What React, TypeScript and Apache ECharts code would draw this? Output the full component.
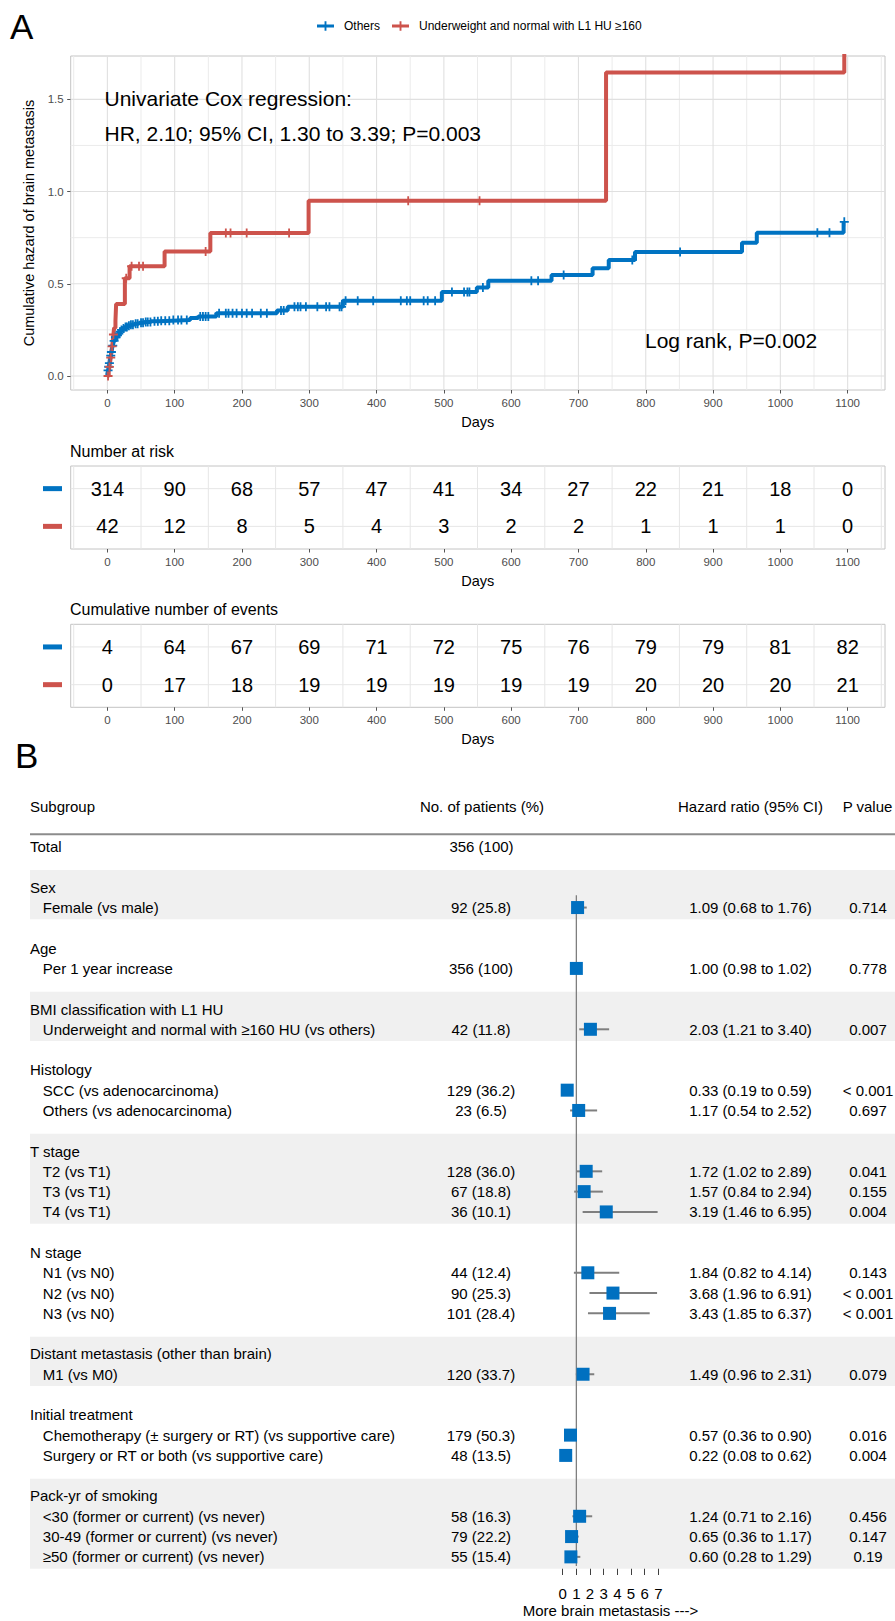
import React, { useEffect, useRef } from "react";
import * as echarts from "echarts";

const FONT = "'Liberation Sans', Arial, Helvetica, sans-serif";
const BLUE = "#0073C2";
const RED = "#CD534C";
const SQUARE = "#0070C0";

// ---------------- Panel A data ----------------
const seriesNames = ["Others", "Underweight and normal with L1 HU \u2265160"];

const othersDays = [0, 0, 1, 2, 3, 4, 5, 6, 7, 8, 9, 10, 11, 12, 14, 16, 18, 20, 23, 26, 30, 35, 40, 47, 55, 65, 78, 95, 123, 135, 162, 252, 268, 350, 497, 549, 566, 660, 721, 745, 784, 943, 965, 1094];
const othersHazard = [0, 0.013, 0.03, 0.05, 0.07, 0.09, 0.11, 0.13, 0.15, 0.165, 0.18, 0.19, 0.2, 0.21, 0.22, 0.23, 0.24, 0.25, 0.258, 0.265, 0.272, 0.278, 0.283, 0.288, 0.293, 0.297, 0.3, 0.303, 0.315, 0.322, 0.34, 0.355, 0.375, 0.408, 0.455, 0.48, 0.517, 0.547, 0.584, 0.629, 0.672, 0.7225, 0.777, 0.836];
const othersCensored = [1, 2, 3, 5, 6, 8, 10, 12, 13, 15, 17, 19, 21, 24, 27, 29, 32, 35, 38, 42, 45, 50, 53, 57, 60, 64, 70, 75, 80, 86, 92, 98, 105, 110, 118, 138, 142, 146, 150, 166, 176, 180, 186, 192, 200, 207, 215, 228, 237, 258, 262, 278, 283, 287, 295, 312, 325, 330, 345, 348, 354, 372, 395, 436, 445, 450, 470, 476, 487, 512, 530, 535, 538, 558, 630, 640, 678, 780, 851, 1055, 1073, 1095];

const underDays = [0, 2, 3, 4, 5, 6, 7, 8, 9, 10, 12, 13, 26, 33, 85, 153, 299, 741, 1095];
const underHazard = [0, 0.024, 0.049, 0.075, 0.1, 0.13, 0.16, 0.19, 0.225, 0.26, 0.3, 0.39, 0.53, 0.595, 0.675, 0.775, 0.95, 1.646, 2.6];
const underCensored = [1, 3, 5, 7, 9, 28, 36, 47, 53, 146, 176, 183, 207, 270, 447, 553];

const dayTicks = [0, 100, 200, 300, 400, 500, 600, 700, 800, 900, 1000, 1100];
const dayMinor = [-50, 50, 150, 250, 350, 450, 550, 650, 750, 850, 950, 1050, 1150];
const hazardTicks = [0, 0.5, 1, 1.5];
const hazardMinor = [0.25, 0.75, 1.25];

const riskOthers = [314, 90, 68, 57, 47, 41, 34, 27, 22, 21, 18, 0];
const riskUnder = [42, 12, 8, 5, 4, 3, 2, 2, 1, 1, 1, 0];
const eventsOthers = [4, 64, 67, 69, 71, 72, 75, 76, 79, 79, 81, 82];
const eventsUnder = [0, 17, 18, 19, 19, 19, 19, 19, 20, 20, 20, 21];

// ---------------- Panel B data ----------------
const forestHeaders = ["Subgroup", "No. of patients (%)", "Hazard ratio (95% CI)", "P value"];
const totalLabel = "Total";
const totalPatients = "356 (100)";
const forestGroups = ["Sex", "Age", "BMI classification with L1 HU", "Histology", "T stage", "N stage", "Distant metastasis (other than brain)", "Initial treatment", "Pack-yr of smoking"];
const forestGroupSizes = [1, 1, 1, 2, 3, 3, 1, 2, 3];
const forestItems = [
  "Female (vs male)",
  "Per 1 year increase",
  "Underweight and normal with \u2265160 HU (vs others)",
  "SCC (vs adenocarcinoma)",
  "Others (vs adenocarcinoma)",
  "T2 (vs T1)",
  "T3 (vs T1)",
  "T4 (vs T1)",
  "N1 (vs N0)",
  "N2 (vs N0)",
  "N3 (vs N0)",
  "M1 (vs M0)",
  "Chemotherapy (\u00b1 surgery or RT) (vs supportive care)",
  "Surgery or RT or both (vs supportive care)",
  "<30 (former or current) (vs never)",
  "30-49 (former or current) (vs never)",
  "\u226550 (former or current) (vs never)",
];
const forestPatients = ["92 (25.8)", "356 (100)", "42 (11.8)", "129 (36.2)", "23 (6.5)", "128 (36.0)", "67 (18.8)", "36 (10.1)", "44 (12.4)", "90 (25.3)", "101 (28.4)", "120 (33.7)", "179 (50.3)", "48 (13.5)", "58 (16.3)", "79 (22.2)", "55 (15.4)"];
const forestHR = [1.09, 1.0, 2.03, 0.33, 1.17, 1.72, 1.57, 3.19, 1.84, 3.68, 3.43, 1.49, 0.57, 0.22, 1.24, 0.65, 0.6];
const forestLo = [0.68, 0.98, 1.21, 0.19, 0.54, 1.02, 0.84, 1.46, 0.82, 1.96, 1.85, 0.96, 0.36, 0.08, 0.71, 0.36, 0.28];
const forestHi = [1.76, 1.02, 3.4, 0.59, 2.52, 2.89, 2.94, 6.95, 4.14, 6.91, 6.37, 2.31, 0.9, 0.62, 2.16, 1.17, 1.29];
const forestP = ["0.714", "0.778", "0.007", "< 0.001", "0.697", "0.041", "0.155", "0.004", "0.143", "< 0.001", "< 0.001", "0.079", "0.016", "0.004", "0.456", "0.147", "0.19"];
const hrAxisTicks = [0, 1, 2, 3, 4, 5, 6, 7];
const hrAxisName = "More brain metastasis --->";

// ---------------- helpers ----------------
function stepAt(times: number[], vals: number[], t: number) {
  let v = vals[0];
  for (let i = 0; i < times.length; i++) {
    if (times[i] <= t) v = vals[i];
    else break;
  }
  return v;
}

function ts(text: string, size: number, align: string, color = "#000", weight = "normal") {
  return {
    text,
    fill: color,
    textFill: color,
    fontSize: size,
    fontFamily: FONT,
    fontWeight: weight,
    align,
    textAlign: align,
    verticalAlign: "middle",
    textVerticalAlign: "middle",
  };
}

function segmentSeries(xi: number, yi: number, data: number[][], color: string, width: number, z: number) {
  return {
    type: "custom",
    xAxisIndex: xi,
    yAxisIndex: yi,
    z,
    silent: true,
    data,
    encode: { x: [0, 2], y: [1, 3] },
    renderItem: (_p: any, api: any) => {
      const a = api.coord([api.value(0), api.value(1)]);
      const b = api.coord([api.value(2), api.value(3)]);
      return {
        type: "line",
        shape: { x1: a[0], y1: a[1], x2: b[0], y2: b[1] },
        style: { stroke: color, lineWidth: width },
      };
    },
  };
}

const X_MIN = -54.5;
const X_MAX = 1155.5;
const Y_MIN = -0.076;
const Y_MAX = 1.735;
const PLUS = "path://M4,0H6V4H10V6H6V10H4V6H0V4H4Z";
const LEGEND_ICON = "path://M0,3.5H8V0H10V3.5H18V6.5H10V10H8V6.5H0Z";

// forest layout rows (slots derived from structure)
type FRow = { slot: number; kind: string; label: string; idx?: number };
const forestRows: FRow[] = [];
const forestBands: number[][] = [];
(() => {
  forestRows.push({ slot: -2, kind: "header", label: "" });
  forestRows.push({ slot: 0, kind: "total", label: totalLabel });
  let slot = 2;
  let item = 0;
  forestGroups.forEach((g, gi) => {
    const start = slot;
    forestRows.push({ slot, kind: "group", label: g });
    slot++;
    for (let k = 0; k < forestGroupSizes[gi]; k++) {
      forestRows.push({ slot, kind: "item", label: forestItems[item], idx: item });
      item++;
      slot++;
    }
    if (gi % 2 === 0) forestBands.push([30, start - 0.85, 895, slot - 1 + 0.58]);
    slot++;
  });
})();
const itemSlots = forestRows.filter((r) => r.kind === "item").map((r) => r.slot);

function tableSeries(gi: number, rows: number[][]) {
  const data: number[][] = [];
  rows.forEach((vals, r) => vals.forEach((v, i) => data.push([dayTicks[i], r + 1, v])));
  return {
    type: "custom",
    xAxisIndex: gi,
    yAxisIndex: gi,
    z: 5,
    silent: true,
    data,
    renderItem: (_p: any, api: any) => {
      const p = api.coord([api.value(0), api.value(1)]);
      return { type: "text", x: p[0], y: p[1], style: ts(String(api.value(2)), 20, "center") };
    },
  };
}

function dayAxis(gi: number) {
  return {
    type: "value",
    gridIndex: gi,
    min: X_MIN,
    max: X_MAX,
    splitLine: { show: false },
    axisLine: { show: false, onZero: false },
    axisTick: { show: true, length: 3.5, customValues: dayTicks, lineStyle: { color: "#555", width: 1 } },
    axisLabel: { customValues: dayTicks, fontSize: 11.5, color: "#4D4D4D", fontFamily: FONT, margin: 7, formatter: (v: number) => String(v) },
    name: "Days",
    nameLocation: "middle",
    nameGap: 24,
    nameTextStyle: { fontSize: 14.5, color: "#000", fontFamily: FONT },
  };
}

function tableYAxis(gi: number) {
  return {
    type: "value",
    gridIndex: gi,
    min: 0.4,
    max: 2.6,
    inverse: true,
    splitLine: { show: false },
    axisLine: { show: false, onZero: false },
    axisTick: { show: false },
    axisLabel: {
      customValues: [1, 2],
      margin: 8.7,
      formatter: (v: number) => (v === 1 ? "{b| }" : "{r| }"),
      rich: {
        b: { backgroundColor: BLUE, width: 19, height: 5, fontSize: 5, lineHeight: 5 },
        r: { backgroundColor: RED, width: 19, height: 5, fontSize: 5, lineHeight: 5 },
      },
    },
  };
}

function tableGridLines(gi: number) {
  const d: number[][] = [];
  dayMinor.forEach((v) => d.push([v, 0.4, v, 2.6]));
  [1, 2].forEach((v) => d.push([X_MIN, v, X_MAX, v]));
  return segmentSeries(gi, gi, d, "#E6E6E6", 1, 1);
}

export default function App() {
  const ref = useRef<HTMLDivElement>(null);
  useEffect(() => {
    document.body.style.margin = "0";
    const chart = echarts.init(ref.current!, null, { renderer: "svg", width: 895, height: 1621 });

    const kmGridData: number[][] = [];
    dayMinor.forEach((v) => kmGridData.push([v, Y_MIN, v, Y_MAX]));
    hazardMinor.forEach((v) => kmGridData.push([X_MIN, v, X_MAX, v]));
    const kmMajorData: number[][] = [];
    dayTicks.forEach((v) => kmMajorData.push([v, Y_MIN, v, Y_MAX]));
    hazardTicks.forEach((v) => kmMajorData.push([X_MIN, v, X_MAX, v]));

    const gridBase = { outerBoundsMode: "none", containLabel: false };

    const option: any = {
      animation: false,
      backgroundColor: "#fff",
      textStyle: { fontFamily: FONT },
      legend: {
        data: seriesNames,
        left: 317,
        top: 20,
        padding: 0,
        itemWidth: 17,
        itemHeight: 10,
        itemGap: 12,
        icon: LEGEND_ICON,
        textStyle: { fontSize: 12, color: "#000", fontFamily: FONT, padding: [0, 0, 0, 5] },
        selectedMode: false,
      },
      grid: [
        { ...gridBase, left: 70.7, top: 56, width: 814.3, height: 334, show: true, borderColor: "#C4C4C4", borderWidth: 1, backgroundColor: "#fff" },
        { ...gridBase, left: 70.7, top: 466, width: 814.3, height: 83, show: true, borderColor: "#C4C4C4", borderWidth: 1, backgroundColor: "#fff" },
        { ...gridBase, left: 70.7, top: 624.3, width: 814.3, height: 83, show: true, borderColor: "#C4C4C4", borderWidth: 1, backgroundColor: "#fff" },
        { ...gridBase, left: 0, top: 785.8, width: 895, height: 780.2, show: false },
        { ...gridBase, left: 562.7, top: 785.8, width: 95.6, height: 780.2, show: false },
      ],
      xAxis: [
        dayAxis(0),
        dayAxis(1),
        dayAxis(2),
        { type: "value", gridIndex: 3, min: 0, max: 895, show: false },
        {
          type: "value",
          gridIndex: 4,
          min: 0,
          max: 7,
          interval: 1,
          splitLine: { show: false },
          axisLine: { show: true, onZero: false, lineStyle: { color: "#404040", width: 1 } },
          axisTick: { show: true, length: 9, customValues: hrAxisTicks, lineStyle: { color: "#404040", width: 1 } },
          axisLabel: { customValues: hrAxisTicks, fontSize: 15, color: "#000", fontFamily: FONT, margin: 20 },
          name: hrAxisName,
          nameLocation: "middle",
          nameGap: 37,
          nameTextStyle: { fontSize: 15, color: "#000", fontFamily: FONT },
        },
      ],
      yAxis: [
        {
          type: "value",
          gridIndex: 0,
          min: Y_MIN,
          max: Y_MAX,
          splitLine: { show: false },
          axisLine: { show: false, onZero: false },
          axisTick: { show: true, length: 3.5, customValues: hazardTicks, lineStyle: { color: "#555", width: 1 } },
          axisLabel: { customValues: hazardTicks, fontSize: 11.5, color: "#4D4D4D", fontFamily: FONT, margin: 7, formatter: (v: number) => v.toFixed(1) },
          name: "Cumulative hazard of brain metastasis",
          nameLocation: "middle",
          nameGap: 32,
          nameRotate: 90,
          nameTextStyle: { fontSize: 14.5, color: "#000", fontFamily: FONT },
        },
        tableYAxis(1),
        tableYAxis(2),
        { type: "value", gridIndex: 3, min: -3, max: 35.45, inverse: true, show: false },
        { type: "value", gridIndex: 4, min: -3, max: 35.45, inverse: true, show: false },
      ],
      graphic: [
        { type: "text", z: 100, x: 10, y: 26, style: ts("A", 35, "left") },
        { type: "text", z: 100, x: 104.5, y: 98.5, style: ts("Univariate Cox regression:", 21, "left") },
        { type: "text", z: 100, x: 104.5, y: 133, style: ts("HR, 2.10; 95% CI, 1.30 to 3.39; P=0.003", 21, "left") },
        { type: "text", z: 100, x: 645, y: 340, style: ts("Log rank, P=0.002", 21, "left") },
        { type: "text", z: 100, x: 70, y: 451, style: ts("Number at risk", 16, "left") },
        { type: "text", z: 100, x: 70, y: 609.5, style: ts("Cumulative number of events", 16, "left") },
        { type: "text", z: 100, x: 15, y: 755.5, style: ts("B", 35, "left") },
      ],
      series: [
        // panel A grid lines
        segmentSeries(0, 0, kmGridData, "#EBEBEB", 1, 1),
        segmentSeries(0, 0, kmMajorData, "#E0E0E0", 1.1, 1),
        {
          type: "line",
          name: seriesNames[0],
          xAxisIndex: 0,
          yAxisIndex: 0,
          step: "end",
          symbol: "none",
          color: BLUE,
          lineStyle: { color: BLUE, width: 4 },
          data: othersDays.map((d, i) => [d, othersHazard[i]]),
          z: 3,
        },
        {
          type: "line",
          name: seriesNames[1],
          xAxisIndex: 0,
          yAxisIndex: 0,
          step: "end",
          symbol: "none",
          color: RED,
          lineStyle: { color: RED, width: 4 },
          data: underDays.map((d, i) => [d, underHazard[i]]),
          z: 3,
        },
        {
          type: "scatter",
          name: "Others censored",
          xAxisIndex: 0,
          yAxisIndex: 0,
          symbol: PLUS,
          symbolSize: 9,
          itemStyle: { color: BLUE, opacity: 1 },
          data: othersCensored.map((t) => [t, stepAt(othersDays, othersHazard, t)]),
          z: 4,
          silent: true,
        },
        {
          type: "scatter",
          name: "Under censored",
          xAxisIndex: 0,
          yAxisIndex: 0,
          symbol: PLUS,
          symbolSize: 9,
          itemStyle: { color: RED, opacity: 1 },
          data: underCensored.map((t) => [t, stepAt(underDays, underHazard, t)]),
          z: 4,
          silent: true,
        },
        // tables
        tableGridLines(1),
        tableSeries(1, [riskOthers, riskUnder]),
        tableGridLines(2),
        tableSeries(2, [eventsOthers, eventsUnder]),
        // forest bands
        {
          type: "custom",
          xAxisIndex: 3,
          yAxisIndex: 3,
          z: 1,
          silent: true,
          data: forestBands,
          encode: { x: [0, 2], y: [1, 3] },
          renderItem: (_p: any, api: any) => {
            const a = api.coord([api.value(0), api.value(1)]);
            const b = api.coord([api.value(2), api.value(3)]);
            return { type: "rect", shape: { x: a[0], y: a[1], width: b[0] - a[0], height: b[1] - a[1] }, style: { fill: "#F0F0F0" } };
          },
        },
        // forest texts
        {
          type: "custom",
          xAxisIndex: 3,
          yAxisIndex: 3,
          z: 3,
          silent: true,
          data: forestRows.map((r, i) => [i, r.slot]),
          renderItem: (params: any, api: any) => {
            const r = forestRows[params.dataIndex];
            const P = (x: number) => api.coord([x, r.slot]);
            const kids: any[] = [];
            const put = (x: number, s: string, align: string) => {
              const p = P(x);
              kids.push({ type: "text", x: p[0], y: p[1], style: ts(s, 15, align) });
            };
            if (r.kind === "header") {
              put(30, forestHeaders[0], "left");
              put(482, forestHeaders[1], "center");
              put(750.5, forestHeaders[2], "center");
              put(867.5, forestHeaders[3], "center");
              const a = api.coord([30, -0.61]);
              const b = api.coord([895, -0.61]);
              kids.push({ type: "line", shape: { x1: a[0], y1: a[1], x2: b[0], y2: b[1] }, style: { stroke: "#8C8C8C", lineWidth: 2 } });
            } else if (r.kind === "total") {
              put(30, r.label, "left");
              put(481.5, totalPatients, "center");
            } else if (r.kind === "group") {
              put(30, r.label, "left");
            } else {
              const i = r.idx as number;
              put(42.8, r.label, "left");
              put(481, forestPatients[i], "center");
              put(750.5, `${forestHR[i].toFixed(2)} (${forestLo[i].toFixed(2)} to ${forestHi[i].toFixed(2)})`, "center");
              put(868, forestP[i], "center");
            }
            return { type: "group", children: kids };
          },
        },
        // reference line at HR = 1
        segmentSeries(4, 4, [[1, 2.4, 1, 35.45]], "#7F7F7F", 1.3, 4),
        // CI lines
        segmentSeries(4, 4, forestHR.map((_, i) => [forestLo[i], itemSlots[i], forestHi[i], itemSlots[i]]), "#7F7F7F", 2, 5),
        {
          type: "scatter",
          name: "HR",
          xAxisIndex: 4,
          yAxisIndex: 4,
          symbol: "rect",
          symbolSize: 13,
          itemStyle: { color: SQUARE, opacity: 1 },
          data: forestHR.map((h, i) => [h, itemSlots[i]]),
          z: 6,
          silent: true,
        },
      ],
    };
    chart.setOption(option);
    return () => chart.dispose();
  }, []);
  return <div ref={ref} style={{ width: 895, height: 1621, position: "absolute", left: 0, top: 0 }} />;
}
